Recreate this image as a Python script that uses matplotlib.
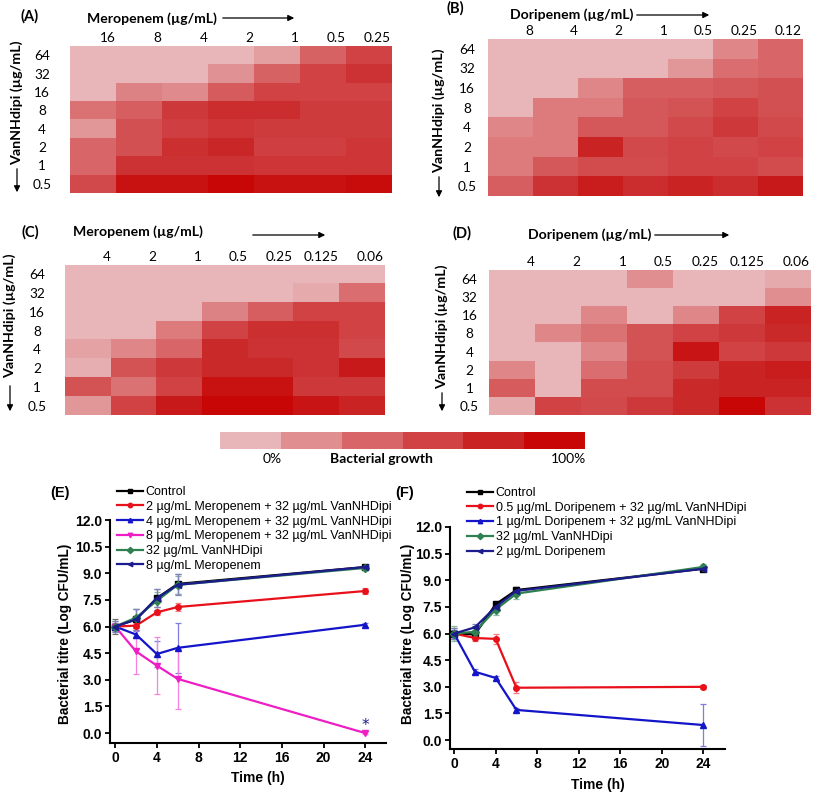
import numpy as np
import matplotlib
matplotlib.use('Agg')
import matplotlib.pyplot as plt
from matplotlib.colors import LinearSegmentedColormap, ListedColormap, BoundaryNorm
from matplotlib.cm import ScalarMappable

# ---------------- data ----------------
vanc_rows = ['64', '32', '16', '8', '4', '2', '1', '0.5']
mero_A_cols = ['16', '8', '4', '2', '1', '0.5', '0.25']
dori_B_cols = ['8', '4', '2', '1', '0.5', '0.25', '0.12']
mero_C_cols = ['4', '2', '1', '0.5', '0.25', '0.125', '0.06']
dori_D_cols = ['4', '2', '1', '0.5', '0.25', '0.125', '0.06']

growth_A = [
    [0.0, 0.0, 0.0, 0.0, 0.6, 2.1, 3.0],
    [0.0, 0.0, 0.0, 0.9, 2.1, 3.0, 3.5],
    [0.0, 1.3, 1.1, 2.3, 3.0, 3.0, 3.0],
    [1.7, 2.2, 3.3, 3.7, 3.7, 3.2, 3.2],
    [0.8, 2.6, 3.1, 3.4, 3.2, 3.2, 3.2],
    [2.0, 2.6, 3.6, 3.9, 3.1, 3.1, 3.4],
    [2.0, 3.5, 3.5, 3.5, 3.4, 3.4, 3.4],
    [2.8, 4.6, 4.6, 5.0, 4.6, 4.6, 4.8],
]
growth_B = [
    [0.0, 0.0, 0.0, 0.0, 0.0, 1.2, 2.0],
    [0.0, 0.0, 0.0, 0.0, 0.8, 1.8, 2.0],
    [0.0, 0.0, 1.2, 2.2, 2.2, 2.4, 2.6],
    [0.0, 1.5, 1.5, 2.4, 2.5, 3.0, 2.6],
    [1.2, 1.5, 2.4, 2.4, 2.8, 3.3, 2.8],
    [1.5, 1.5, 4.0, 2.8, 3.0, 2.8, 3.0],
    [1.5, 2.4, 2.7, 2.7, 3.0, 3.0, 2.7],
    [2.2, 3.5, 4.2, 3.7, 4.0, 3.7, 4.3],
]
growth_C = [
    [0.0, 0.0, 0.0, 0.0, 0.0, 0.0, 0.0],
    [0.0, 0.0, 0.0, 0.0, 0.0, 0.3, 1.8],
    [0.0, 0.0, 0.0, 1.3, 2.2, 3.0, 3.0],
    [0.0, 0.0, 1.5, 3.0, 3.6, 3.6, 3.0],
    [0.5, 1.2, 2.0, 3.8, 3.5, 3.5, 2.8],
    [0.2, 2.5, 3.3, 3.8, 3.8, 3.5, 4.3],
    [2.5, 1.7, 3.0, 4.6, 4.6, 3.3, 3.3],
    [0.8, 3.0, 4.3, 5.0, 5.0, 4.5, 4.0],
]
growth_D = [
    [0.0, 0.0, 0.0, 1.0, 0.0, 0.0, 0.3],
    [0.0, 0.0, 0.0, 0.0, 0.0, 0.0, 1.0],
    [0.0, 0.0, 1.2, 0.0, 1.2, 3.0, 4.0],
    [0.0, 1.2, 1.7, 2.5, 3.0, 3.3, 3.8],
    [0.0, 0.0, 1.2, 2.5, 4.5, 3.0, 3.3],
    [1.2, 0.0, 1.8, 2.7, 3.2, 4.0, 4.2],
    [2.3, 0.0, 2.7, 2.7, 3.8, 4.0, 4.0],
    [0.3, 3.0, 2.8, 3.3, 3.8, 5.0, 3.5],
]
growth_levels = [0, 1, 2, 3, 4, 5]

time_h = [0, 2, 4, 6, 24]

E_labels = ['Control',
            '2 µg/mL Meropenem + 32 µg/mL VanNHDipi',
            '4 µg/mL Meropenem + 32 µg/mL VanNHDipi',
            '8 µg/mL Meropenem + 32 µg/mL VanNHDipi',
            '32 µg/mL VanNHDipi',
            '8 µg/mL Meropenem']
E_means = [
    [6.0, 6.4, 7.6, 8.4, 9.35],
    [6.0, 6.05, 6.8, 7.1, 8.0],
    [6.0, 5.55, 4.45, 4.8, 6.1],
    [6.0, 4.6, 3.8, 3.05, 0.0],
    [6.0, 6.5, 7.45, 8.35, 9.3],
    [6.0, 6.4, 7.6, 8.35, 9.35],
]
E_errs = [
    [0.4, 0.6, 0.5, 0.58, 0.1],
    [0.1, 0.15, 0.15, 0.22, 0.15],
    [0.2, 0.2, 0.75, 1.4, 0.1],
    [0.2, 1.3, 1.6, 1.7, 0.05],
    [0.3, 0.5, 0.5, 0.5, 0.1],
    [0.3, 0.6, 0.5, 0.6, 0.1],
]

F_labels = ['Control',
            '0.5 µg/mL Doripenem + 32 µg/mL VanNHDipi',
            '1 µg/mL Doripenem + 32 µg/mL VanNHDipi',
            '32 µg/mL VanNHDipi',
            '2 µg/mL Doripenem']
F_means = [
    [6.0, 5.95, 7.65, 8.45, 9.65],
    [6.0, 5.75, 5.7, 2.95, 3.0],
    [6.0, 3.85, 3.5, 1.7, 0.85],
    [6.0, 6.1, 7.35, 8.25, 9.75],
    [6.0, 6.35, 7.5, 8.4, 9.65],
]
F_errs = [
    [0.3, 0.15, 0.15, 0.15, 0.1],
    [0.2, 0.15, 0.3, 0.3, 0.1],
    [0.2, 0.15, 0.1, 0.1, 1.2],
    [0.4, 0.3, 0.3, 0.3, 0.15],
    [0.3, 0.2, 0.2, 0.2, 0.1],
]

# ---------------- styles ----------------
growth_colors = ['#E8B6B8', '#E08E90', '#D86668', '#D04244', '#C92324', '#C80606']
cmap = LinearSegmentedColormap.from_list('growth', growth_colors)
HM_FONT = ['Lato', 'DejaVu Sans']
PL_FONT = ['Liberation Sans', 'DejaVu Sans']

W, H = 813, 795
fig = plt.figure(figsize=(W / 100, H / 100), dpi=100)


def ax_px(l, t, r, b):
    return fig.add_axes([l / W, 1 - b / H, (r - l) / W, (b - t) / H])


def fx(x):
    return x / W


def fy(y):
    return 1 - y / H


def arrow(x0, y0, x1, y1):
    fig.add_artist(matplotlib.patches.FancyArrowPatch(
        (fx(x0), fy(y0)), (fx(x1), fy(y1)), transform=fig.transFigure,
        arrowstyle='-|>', mutation_scale=9, lw=0.9, color='black'))


def heatmap(box, data, cols, rows, ypad, panel, title, title_xy, arr_x, lab_x, lab_y, varrow):
    ax = ax_px(*box)
    ax.imshow(np.array(data), cmap=cmap, vmin=0, vmax=5, aspect='auto',
              interpolation='nearest')
    ax.xaxis.tick_top()
    ax.set_xticks(np.arange(len(cols)) + 0.5 - 1e-6)
    ax.set_xticklabels(cols, ha='right', family=HM_FONT, fontsize=9.8)
    ax.set_yticks(np.arange(len(rows)))
    ax.set_yticklabels(rows, ha='center', family=HM_FONT, fontsize=9.8)
    ax.tick_params(axis='x', length=0, pad=1.5)
    ax.tick_params(axis='y', length=0, pad=ypad)
    for s in ax.spines.values():
        s.set_visible(False)
    fig.text(fx(panel[0]), fy(panel[1]), panel[2], ha='center', va='center',
             family=HM_FONT, fontsize=10.5, fontweight='bold')
    fig.text(fx(title_xy[0]), fy(title_xy[1]), title, ha='left', va='center',
             family=HM_FONT, fontsize=10.1, fontweight='bold')
    arrow(arr_x[0], arr_x[2], arr_x[1], arr_x[2])
    fig.text(fx(lab_x), fy(lab_y), 'VanNHdipi (µg/mL)', rotation=90,
             ha='center', va='center', family=HM_FONT, fontsize=10.3, fontweight='bold')
    arrow(lab_x, varrow[0], lab_x, varrow[1])
    return ax


heatmap((70, 46, 391, 193), growth_A, mero_A_cols, vanc_rows, 20,
        (30, 16, '(A)'), 'Meropenem (µg/mL)', (87, 19), (220, 297, 18),
        17, 103, (166, 195))
heatmap((488, 39, 802, 196), growth_B, dori_B_cols, vanc_rows, 15,
        (455, 8, '(B)'), 'Doripenem (µg/mL)', (510, 15), (634, 712, 15),
        439, 111, (174, 200))
heatmap((65, 265, 384, 415), growth_C, mero_C_cols, vanc_rows, 20,
        (30, 232, '(C)'), 'Meropenem (µg/mL)', (73, 232), (250, 328, 235),
        10, 316, (383, 414))
heatmap((489, 270, 810, 415), growth_D, dori_D_cols, vanc_rows, 14,
        (462, 233, '(D)'), 'Doripenem (µg/mL)', (528, 235), (652, 732, 235),
        442, 327, (390, 414))

# colorbar
cax = ax_px(220, 432, 585, 449)
sm = ScalarMappable(norm=BoundaryNorm(np.arange(len(growth_levels) + 1) - 0.5, len(growth_levels)),
                    cmap=ListedColormap(growth_colors))
cb = fig.colorbar(sm, cax=cax, orientation='horizontal')
cb.set_ticks([])
cb.minorticks_off()
cax.tick_params(which='both', length=0)
cb.outline.set_visible(False)
fig.text(fx(272), fy(459), '0%', ha='center', va='center', family=HM_FONT, fontsize=10)
fig.text(fx(381), fy(459), 'Bacterial growth', ha='center', va='center',
         family=HM_FONT, fontsize=10, fontweight='bold')
fig.text(fx(586), fy(459), '100%', ha='right', va='center', family=HM_FONT, fontsize=10)


def lighten(c, f=0.45):
    rgb = np.array(matplotlib.colors.to_rgb(c))
    return tuple(rgb + (1 - rgb) * f)


def timekill(box, xlim, ylim, means, errs, labels, colors, markers, legend_xy,
             panel_xy, panel, ylab_x, xlab_y):
    ax = ax_px(*box)
    for i, (m, e, lab, c, mk) in enumerate(zip(means, errs, labels, colors, markers)):
        ax.errorbar(time_h, m, yerr=e, fmt='none', ecolor=lighten(c), elinewidth=0.9,
                    capsize=2, capthick=0.9, zorder=2)
        ax.plot(time_h, m, color=c, marker=mk, ms=4, lw=1.6, label=lab, zorder=3 + i)
    ax.set_xlim(*xlim)
    ax.set_ylim(*ylim)
    ax.set_xticks([0, 4, 8, 12, 16, 20, 24])
    ax.set_yticks(np.arange(0, 12.01, 1.5))
    ax.set_yticklabels(['%.1f' % v for v in np.arange(0, 12.01, 1.5)])
    for s in ['top', 'right']:
        ax.spines[s].set_visible(False)
    for s in ['left', 'bottom']:
        ax.spines[s].set_linewidth(1.5)
    ax.tick_params(length=3.5, width=1.3, pad=2.0, labelsize=10)
    for t in ax.get_xticklabels() + ax.get_yticklabels():
        t.set_fontweight('bold')
        t.set_family(PL_FONT)
    ax.legend(loc='upper left', bbox_to_anchor=(fx(legend_xy[0]), fy(legend_xy[1])),
              bbox_transform=fig.transFigure, frameon=False,
              prop={'family': PL_FONT, 'size': 9}, handlelength=2.1, markerscale=0.8,
              handletextpad=0.2, labelspacing=0.22, borderaxespad=0, borderpad=0)
    fig.text(fx(panel_xy[0]), fy(panel_xy[1]), panel, ha='center', va='center',
             family=PL_FONT, fontsize=10.5, fontweight='bold')
    fig.text(fx(ylab_x), fy(634), 'Bacterial titre (Log CFU/mL)', rotation=90,
             ha='center', va='center', family=PL_FONT, fontsize=9.8, fontweight='bold')
    fig.text(fx((box[0] + box[2]) / 2 + 10), fy(xlab_y), 'Time (h)', ha='center', va='center',
             family=PL_FONT, fontsize=10, fontweight='bold')
    return ax


E_colors = ['#000000', '#E8101A', '#1414C8', '#EE1EC4', '#2E8050', '#1C1C8C']
E_markers = ['s', 'o', '^', 'v', 'D', '<']
axE = timekill((110, 520, 386, 743), (-0.5, 26.0), (-0.56, 12.0), E_means, E_errs,
               E_labels, E_colors, E_markers, (117, 486), (60, 493), '(E)', 65, 778)
axE.text(time_h[-1], E_means[3][-1] + 0.45, '*', color='#1C1C8C', ha='center',
         va='center', fontsize=11)

F_colors = ['#000000', '#E8101A', '#1414C8', '#2E8050', '#1C1C8C']
F_markers = ['s', 'o', '^', 'D', '<']
axF = timekill((450, 527, 725, 749), (-0.4, 26.1), (-0.5, 12.0), F_means, F_errs,
               F_labels, F_colors, F_markers, (467, 487), (405, 493), '(F)', 408, 785)

fig.savefig('out.png', dpi=100)
